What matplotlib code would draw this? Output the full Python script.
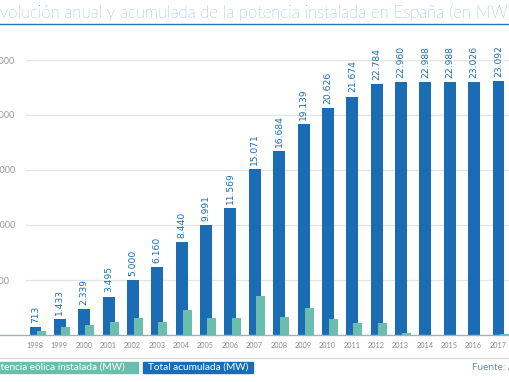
import numpy as np
import matplotlib.pyplot as plt

# datos
years = list(range(1998, 2018))
total_mw = [713, 1433, 2339, 3495, 5000, 6160, 8440, 9991, 11569, 15071,
            16684, 19139, 20626, 21674, 22784, 22960, 22988, 22988, 23026, 23092]
annual_mw = [370, 720, 906, 1156, 1505, 1160, 2280, 1551, 1578, 3502,
             1613, 2455, 1487, 1048, 1110, 176, 28, 0, 38, 66]
y_ticks = [5000, 10000, 15000, 20000, 25000]

BLUE = '#1a6db5'
TEAL = '#6bbdad'
GRAY = '#8a8a8a'

W, H = 510, 382
fig = plt.figure(figsize=(W / 100, H / 100), dpi=100)

def fx(px):
    return px / W

def fy(py):
    return 1 - py / H

# eje: 0 MW en y=335 px, 25000 MW en y=60 px; 1998 en x=35 px, paso 24.37 px
step = 24.37
ax = fig.add_axes([0, fy(335), 1, (335 - 60) / H])
ax.set_xlim(-35 / step, (W - 35) / step)
ax.set_ylim(0, 25000)

x = np.arange(len(years))
ax.hlines(y_ticks, (25 - 35) / step, (W - 35) / step, color='#e3e3e3', lw=0.9, zorder=0)
ax.bar(x + 0.02, total_mw, width=0.49, color=BLUE, zorder=2)
ax.bar(x + 0.25, annual_mw, width=0.37, color=TEAL, zorder=3)

for xi, v in zip(x, total_mw):
    ax.annotate(f"{v:,}".replace(',', '.'), (xi + 0.02, v), xytext=(0, 3),
                textcoords='offset points', rotation=90, ha='center', va='bottom',
                fontsize=6.6, color=BLUE, annotation_clip=False, zorder=4)

for s in ['top', 'right', 'left']:
    ax.spines[s].set_visible(False)
ax.spines['bottom'].set_color('#9bb0c4')
ax.spines['bottom'].set_linewidth(1.0)

ax.set_xticks(x)
ax.set_xticklabels([str(y) for y in years], fontsize=5.3, color=GRAY, family='Lato')
ax.tick_params(axis='x', length=0, pad=5)
ax.set_yticks(y_ticks)
ax.set_yticklabels([f"{v:,}".replace(',', '.') for v in y_ticks], fontsize=6.5,
                   color='#999999', family='Lato')
for lab in ax.get_yticklabels():
    lab.set_horizontalalignment('left')
ax.tick_params(axis='y', length=0, pad=9.5)

# titulo con subrayado
fig.text(fx(-10), fy(13), 'Evolución anual y acumulada de la potencia instalada en España (en MW)',
         fontsize=12.1, color='#2a78bd', family='Lato', fontweight='light', va='center', ha='left')
fig.add_artist(plt.Line2D([0, 1], [fy(24), fy(24)], color='#2a78bd', lw=1.0))

# linea y leyenda inferior
fig.add_artist(plt.Line2D([0, 1], [fy(358), fy(358)], color='#dddddd', lw=1.0))
fig.patches.append(plt.Rectangle((fx(-20), fy(373)), fx(158), (373 - 362) / H,
                                 transform=fig.transFigure, color=TEAL))
fig.patches.append(plt.Rectangle((fx(143), fy(373)), fx(110), (373 - 362) / H,
                                 transform=fig.transFigure, color=BLUE))
fig.text(fx(125), fy(367.5), 'Potencia eólica instalada (MW)', ha='right', va='center',
         fontsize=7.2, color='white', family='Lato')
fig.text(fx(148), fy(367.5), 'Total acumulada (MW)', ha='left', va='center',
         fontsize=7.2, color='white', family='Lato')
fig.text(fx(472), fy(368), 'Fuente: AEE', ha='left', va='center',
         fontsize=7.2, color='#6f8fb3', family='Lato')

fig.savefig('out.png', dpi=100)
